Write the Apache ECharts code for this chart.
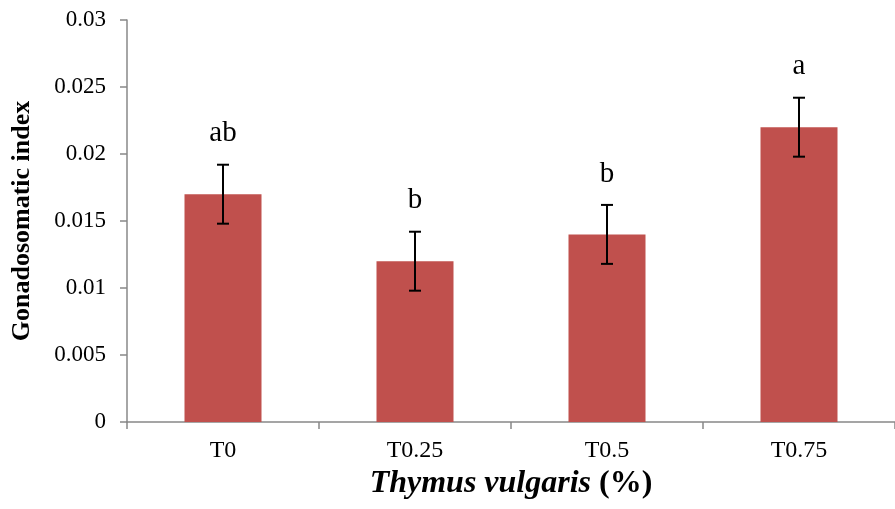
<!DOCTYPE html>
<html>
<head>
<meta charset="utf-8">
<script src="https://cdn.jsdelivr.net/npm/echarts@6/dist/echarts.min.js"></script>
<style>
  html, body { margin: 0; padding: 0; background: #fff; }
  #chart { width: 895px; height: 509px; }
</style>
</head>
<body>
<div id="chart"></div>
<script>
const categories = ["T0", "T0.25", "T0.5", "T0.75"];
const gsiValues = [0.017, 0.012, 0.014, 0.022];
const errValues = [0.0022, 0.0022, 0.0022, 0.0022];
const letters = ["ab", "b", "b", "a"];

const serif = "'Liberation Serif', 'DejaVu Serif', serif";

const errData = categories.map((c, i) => [i, gsiValues[i] - errValues[i], gsiValues[i] + errValues[i], letters[i]]);

const myChart = echarts.init(document.getElementById("chart"));

const options = {
  animation: false,
  grid: {
    left: 127,
    top: 20,
    width: 774,
    height: 402,
  },
  xAxis: {
    type: "category",
    data: categories,
    name: "{i|Thymus vulgaris}{b| (%)}",
    nameLocation: "middle",
    nameGap: 46,
    nameTextStyle: {
      rich: {
        i: { fontFamily: serif, fontSize: 32, fontWeight: "bold", fontStyle: "italic", color: "#000" },
        b: { fontFamily: serif, fontSize: 32, fontWeight: "bold", color: "#000" },
      },
    },
    axisLine: { lineStyle: { color: "#888", width: 1.5 } },
    axisTick: { show: true, length: 7, lineStyle: { color: "#888", width: 1.5 } },
    axisLabel: { fontFamily: serif, fontSize: 24, color: "#000", margin: 17 },
  },
  yAxis: {
    type: "value",
    min: 0,
    max: 0.03,
    interval: 0.005,
    name: "Gonadosomatic index",
    nameLocation: "middle",
    nameGap: 92,
    nameTextStyle: { fontFamily: serif, fontSize: 26, fontWeight: "bold", color: "#000" },
    axisLine: { show: true, lineStyle: { color: "#888", width: 1.5 } },
    axisTick: { show: true, length: 7, lineStyle: { color: "#888", width: 1.5 } },
    splitLine: { show: false },
    axisLabel: {
      fontFamily: serif,
      fontSize: 23,
      color: "#000",
      margin: 21,
      formatter: (v) => String(+v.toFixed(3)),
    },
  },
  series: [
    {
      type: "bar",
      data: gsiValues,
      barWidth: 77,
      itemStyle: { color: "#C0504D" },
    },
    {
      type: "custom",
      data: errData,
      z: 10,
      renderItem(params, api) {
        const x = api.coord([api.value(0), api.value(1)])[0];
        const yLow = api.coord([api.value(0), api.value(1)])[1];
        const yHigh = api.coord([api.value(0), api.value(2)])[1];
        const half = 6;
        const style = { stroke: "#000", lineWidth: 2 };
        return {
          type: "group",
          children: [
            { type: "line", shape: { x1: x, y1: yLow, x2: x, y2: yHigh }, style },
            { type: "line", shape: { x1: x - half, y1: yLow, x2: x + half, y2: yLow }, style },
            { type: "line", shape: { x1: x - half, y1: yHigh, x2: x + half, y2: yHigh }, style },
            {
              type: "text",
              style: {
                x: x,
                y: yHigh - 31,
                text: api.value(3),
                fill: "#000",
                font: "29px " + serif,
                align: "center",
                verticalAlign: "middle",
              },
            },
          ],
        };
      },
    },
  ],
};

myChart.setOption(options);
</script>
</body>
</html>
